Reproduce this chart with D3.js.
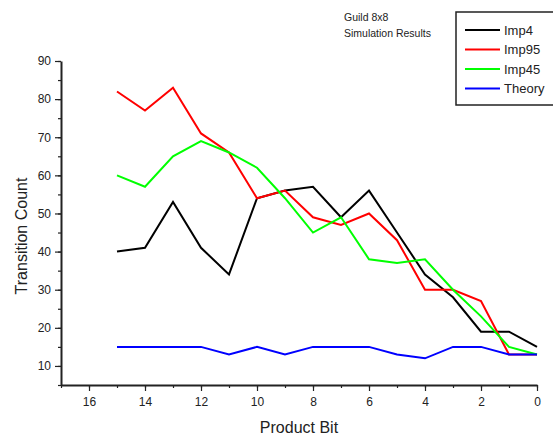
<!DOCTYPE html>
<html>
<head>
<meta charset="utf-8">
<script src="https://cdn.jsdelivr.net/npm/d3@7"></script>
<style>
  body { margin: 0; background: #fff; }
  text { font-family: Arial, "Liberation Sans", sans-serif; fill: #222; }
</style>
</head>
<body>
<div id="chart"></div>
<script>
// data
var bits = [15, 14, 13, 12, 11, 10, 9, 8, 7, 6, 5, 4, 3, 2, 1, 0];
var imp4 = [40, 41, 53, 41, 34, 54, 56, 57, 49, 56, 45, 34, 28, 19, 19, 15];
var imp95 = [82, 77, 83, 71, 66, 54, 56, 49, 47, 50, 43, 30, 30, 27, 13, 13];
var imp45 = [60, 57, 65, 69, 66, 62, 54, 45, 49, 38, 37, 38, 30, 23, 15, 13];
var theory = [15, 15, 15, 15, 13, 15, 13, 15, 15, 15, 13, 12, 15, 15, 13, 13];
var seriesNames = ["Imp4", "Imp95", "Imp45", "Theory"];
var seriesColors = ["#000000", "#ff0000", "#00ff00", "#0000ff"];
var xTicks = [16, 14, 12, 10, 8, 6, 4, 2, 0];
var yTicks = [10, 20, 30, 40, 50, 60, 70, 80, 90];

var svgWidth = 553, svgHeight = 438;
var margin = { top: 61, right: 16, bottom: 53, left: 61 };
var width = svgWidth - margin.left - margin.right;
var height = svgHeight - margin.top - margin.bottom;

var svg = d3.select("#chart").append("svg")
  .attr("width", svgWidth)
  .attr("height", svgHeight);

var chart = svg.append("g")
  .attr("transform", `translate(${margin.left}, ${margin.top})`);

var x = d3.scaleLinear().domain([17, 0]).range([0, width]);
var y = d3.scaleLinear().domain([5, 90]).range([height, 0]);

// minor ticks first, then major
chart.append("g")
  .attr("transform", `translate(0, ${height})`)
  .call(d3.axisBottom(x).tickValues(d3.range(0, 18, 1)).tickSize(3).tickFormat(""))
  .call(g => g.select(".domain").remove())
  .selectAll("line").attr("stroke", "#222").attr("stroke-width", 1.2);

chart.append("g")
  .call(d3.axisLeft(y).tickValues(d3.range(5, 91, 5)).tickSize(3).tickFormat(""))
  .call(g => g.select(".domain").remove())
  .selectAll("line").attr("stroke", "#222").attr("stroke-width", 1.2);

var xAxis = chart.append("g")
  .attr("transform", `translate(0, ${height})`)
  .call(d3.axisBottom(x).tickValues(xTicks).tickSize(6).tickPadding(6).tickSizeOuter(0));

var yAxis = chart.append("g")
  .call(d3.axisLeft(y).tickValues(yTicks).tickSize(6).tickPadding(4).tickSizeOuter(0));

[xAxis, yAxis].forEach(function(a) {
  a.select(".domain").attr("stroke", "#222").attr("stroke-width", 2);
  a.selectAll(".tick line").attr("stroke", "#222").attr("stroke-width", 1.2);
  a.selectAll(".tick text").attr("font-size", 12).style("fill", "#222");
});

// lines
var allSeries = [imp4, imp95, imp45, theory];
var line = d3.line()
  .x((d, i) => x(bits[i]))
  .y(d => y(d));

allSeries.forEach(function(vals, k) {
  chart.append("path")
    .datum(vals)
    .attr("fill", "none")
    .attr("stroke", seriesColors[k])
    .attr("stroke-width", 2)
    .attr("stroke-linejoin", "miter")
    .attr("d", line);
});

// axis titles
svg.append("text")
  .attr("x", margin.left + width / 2)
  .attr("y", 433)
  .attr("text-anchor", "middle")
  .attr("font-size", 16)
  .text("Product Bit");

svg.append("text")
  .attr("transform", "translate(27, 236) rotate(-90)")
  .attr("text-anchor", "middle")
  .attr("font-size", 16)
  .text("Transition Count");

// note text
svg.append("text")
  .attr("x", 344).attr("y", 21)
  .attr("font-size", 10.5)
  .text("Guild 8x8");
svg.append("text")
  .attr("x", 344).attr("y", 37)
  .attr("font-size", 10.5)
  .text("Simulation Results");

// legend
var legend = svg.append("g");
legend.append("rect")
  .attr("x", 456).attr("y", 12)
  .attr("width", 110).attr("height", 93)
  .attr("fill", "#fff")
  .attr("stroke", "#222")
  .attr("stroke-width", 1.5);

seriesNames.forEach(function(name, k) {
  var ly = 30 + k * 19.5;
  legend.append("line")
    .attr("x1", 465).attr("x2", 500)
    .attr("y1", ly).attr("y2", ly)
    .attr("stroke", seriesColors[k])
    .attr("stroke-width", 2);
  legend.append("text")
    .attr("x", 504).attr("y", ly + 4.5)
    .attr("font-size", 13)
    .text(name);
});
</script>
</body>
</html>
